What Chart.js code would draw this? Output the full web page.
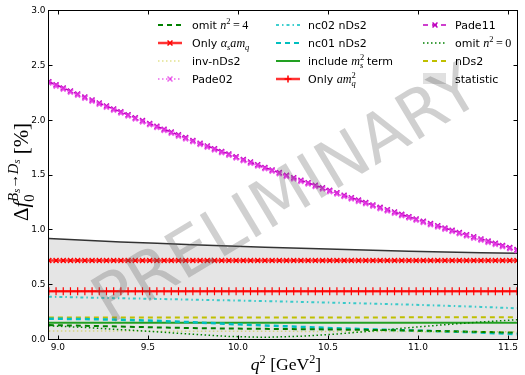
<!DOCTYPE html>
<html><head><meta charset="utf-8">
<script src="https://cdn.jsdelivr.net/npm/chart.js@4/dist/chart.umd.min.js"></script>
<style>html,body{margin:0;padding:0;background:#fff;}canvas{display:block;}</style>
</head><body>
<canvas id="c" width="525" height="375"></canvas>
<script>
// ---------- data ----------
const q2 = [8.95, 8.99, 9.03, 9.07, 9.11, 9.15, 9.19, 9.23, 9.27, 9.31, 9.35, 9.39, 9.43, 9.47, 9.51, 9.55, 9.59, 9.63, 9.67, 9.71, 9.75, 9.79, 9.83, 9.87, 9.91, 9.95, 9.99, 10.03, 10.07, 10.11, 10.15, 10.19, 10.23, 10.27, 10.31, 10.35, 10.39, 10.43, 10.47, 10.51, 10.55, 10.59, 10.63, 10.67, 10.71, 10.75, 10.79, 10.83, 10.87, 10.91, 10.95, 10.99, 11.03, 11.07, 11.11, 11.15, 11.19, 11.23, 11.27, 11.31, 11.35, 11.39, 11.43, 11.47, 11.51, 11.55];
const q2Coarse = [8.95, 9.15, 9.35, 9.55, 9.75, 9.95, 10.15, 10.35, 10.55, 10.75, 10.95, 11.15, 11.35, 11.55];
const xTicks = [9.0, 9.5, 10.0, 10.5, 11.0, 11.5];
const yTicks = [0.0, 0.5, 1.0, 1.5, 2.0, 2.5, 3.0];

const pade02 = [2.340, 2.312, 2.284, 2.256, 2.229, 2.201, 2.174, 2.146, 2.119, 2.092,
  2.066, 2.039, 2.012, 1.986, 1.960, 1.934, 1.908, 1.882, 1.856, 1.831,
  1.805, 1.780, 1.755, 1.730, 1.705, 1.681, 1.656, 1.632, 1.608, 1.583,
  1.559, 1.536, 1.512, 1.488, 1.465, 1.442, 1.419, 1.396, 1.373, 1.350,
  1.328, 1.305, 1.283, 1.261, 1.239, 1.217, 1.195, 1.174, 1.152, 1.131,
  1.110, 1.089, 1.068, 1.047, 1.027, 1.006, 0.986, 0.966, 0.946, 0.926,
  0.907, 0.887, 0.868, 0.848, 0.829, 0.810];
const pade11 = [2.350, 2.322, 2.294, 2.266, 2.239, 2.211, 2.184, 2.156, 2.129, 2.102,
  2.076, 2.049, 2.022, 1.996, 1.970, 1.944, 1.918, 1.892, 1.866, 1.841,
  1.815, 1.790, 1.765, 1.740, 1.715, 1.691, 1.666, 1.642, 1.618, 1.593,
  1.569, 1.546, 1.522, 1.498, 1.475, 1.452, 1.429, 1.406, 1.383, 1.360,
  1.338, 1.315, 1.293, 1.271, 1.249, 1.227, 1.205, 1.184, 1.162, 1.141,
  1.120, 1.099, 1.078, 1.057, 1.037, 1.016, 0.996, 0.976, 0.956, 0.936,
  0.917, 0.897, 0.878, 0.858, 0.839, 0.820];
const onlyAsAmq = [0.72, 0.72, 0.72, 0.72, 0.72, 0.72, 0.72, 0.72, 0.72, 0.72,
  0.72, 0.72, 0.72, 0.72, 0.72, 0.72, 0.72, 0.72, 0.72, 0.72,
  0.72, 0.72, 0.72, 0.72, 0.72, 0.72, 0.72, 0.72, 0.72, 0.72,
  0.72, 0.72, 0.72, 0.72, 0.72, 0.72, 0.72, 0.72, 0.72, 0.72,
  0.72, 0.72, 0.72, 0.72, 0.72, 0.72, 0.72, 0.72, 0.72, 0.72,
  0.72, 0.72, 0.72, 0.72, 0.72, 0.72, 0.72, 0.72, 0.72, 0.72,
  0.72, 0.72, 0.72, 0.72, 0.72, 0.72];
const onlyAmq2 = [0.44, 0.44, 0.44, 0.44, 0.44, 0.44, 0.44, 0.44, 0.44, 0.44,
  0.44, 0.44, 0.44, 0.44, 0.44, 0.44, 0.44, 0.44, 0.44, 0.44,
  0.44, 0.44, 0.44, 0.44, 0.44, 0.44, 0.44, 0.44, 0.44, 0.44,
  0.44, 0.44, 0.44, 0.44, 0.44, 0.44, 0.44, 0.44, 0.44, 0.44,
  0.44, 0.44, 0.44, 0.44, 0.44, 0.44, 0.44, 0.44, 0.44, 0.44,
  0.44, 0.44, 0.44, 0.44, 0.44, 0.44, 0.44, 0.44, 0.44, 0.44,
  0.44, 0.44, 0.44, 0.44, 0.44, 0.44];

const statistic  = [0.920, 0.905, 0.890, 0.877, 0.864, 0.852, 0.841, 0.831, 0.822, 0.813, 0.805, 0.798, 0.792, 0.787];
const nc02nDs2   = [0.390, 0.383, 0.376, 0.370, 0.363, 0.357, 0.350, 0.343, 0.335, 0.327, 0.318, 0.308, 0.297, 0.285];
const nc01nDs2   = [0.190, 0.186, 0.180, 0.170, 0.157, 0.142, 0.128, 0.115, 0.102, 0.092, 0.083, 0.074, 0.064, 0.048];
const omitN4     = [0.132, 0.125, 0.118, 0.110, 0.104, 0.100, 0.097, 0.094, 0.091, 0.087, 0.082, 0.076, 0.069, 0.062];
const omitN0     = [0.125, 0.110, 0.090, 0.070, 0.048, 0.028, 0.020, 0.030, 0.050, 0.078, 0.108, 0.135, 0.160, 0.180];
const invNDs2    = [0.078, 0.077, 0.077, 0.076, 0.076, 0.075, 0.075, 0.074, 0.073, 0.073, 0.072, 0.071, 0.071, 0.070];
const nDs2       = [0.200, 0.200, 0.200, 0.200, 0.200, 0.200, 0.200, 0.201, 0.201, 0.201, 0.202, 0.202, 0.203, 0.204];
const includeMs2 = [0.152, 0.152, 0.152, 0.152, 0.152, 0.152, 0.152, 0.152, 0.152, 0.152, 0.152, 0.152, 0.152, 0.152];

// ---------- helpers ----------
const pts = (xs, ys) => xs.map((x, i) => ({x: x, y: ys[i]}));
const SF = '"DejaVu Sans"', RM = '"Liberation Serif"';
function fontFor(f, size) {
  if (f === 'it') return 'italic ' + size + 'px ' + RM;
  if (f === 'rm') return size + 'px ' + RM;
  return size + 'px ' + SF;
}
// seg: [text, font, scale, dyEm, flag]  flag 's' save x, 'r' restore x
function richLayout(ctx, segs, base, draw, x0, y0) {
  let x = x0 || 0, saved = 0, maxX = x;
  for (const s of segs) {
    const [t, f, sc = 1, dy = 0, fl = ''] = s;
    const size = base * (f === 'sf' ? 1 : 1.1) * sc;
    if (fl === 's') saved = x;
    if (fl === 'r') x = saved;
    ctx.font = fontFor(f, size);
    if (draw) ctx.fillText(t, x, y0 + dy * base);
    x += ctx.measureText(t).width;
    maxX = Math.max(maxX, x);
  }
  return maxX - (x0 || 0);
}
function drawRich(ctx, segs, base, x, y, align) {
  ctx.textAlign = 'left'; ctx.textBaseline = 'alphabetic';
  let w = richLayout(ctx, segs, base, false, 0, 0);
  let sx = align === 'center' ? x - w / 2 : x;
  richLayout(ctx, segs, base, true, sx, y);
}

const C = {
  green: '#008000', greenLight: '#22a022', red: 'rgba(255,0,0,0.8)', redM: '#ff0000',
  yellow: '#bfbf00', yellowPale: 'rgba(191,191,0,0.45)', cyan: '#00bfbf', cyanLight: 'rgba(0,191,191,0.75)',
  mag: '#bf00bf', magLight: 'rgba(221,0,221,0.6)'
};
const DASH = [5, 4], DOT = [1.5, 2.5], DASHDOT = [3, 3, 1.5, 3];

const legendItems = [
  {col: 0, row: 0, color: C.green, dash: DASH, lw: 2, segs: [['omit ', 'sf'], ['n', 'it'], ['2', 'rm', 0.7, -0.42], ['\u2009=\u20094', 'rm']]},
  {col: 0, row: 1, color: C.red, dash: [], lw: 2.5, marker: 'x', mcolor: C.redM, segs: [['Only ', 'sf'], ['\u03b1', 'it'], ['s', 'it', 0.7, 0.25], ['am', 'it'], ['q', 'it', 0.7, 0.25]]},
  {col: 0, row: 2, color: C.yellowPale, dash: DOT, lw: 1.5, segs: [['inv-nDs2', 'sf']]},
  {col: 0, row: 3, color: C.magLight, dash: DOT, lw: 1.5, marker: 'x', mcolor: C.magLight, segs: [['Pade02', 'sf']]},
  {col: 1, row: 0, color: C.cyanLight, dash: DASHDOT, lw: 2, segs: [['nc02 nDs2', 'sf']]},
  {col: 1, row: 1, color: C.cyan, dash: DASH, lw: 2, segs: [['nc01 nDs2', 'sf']]},
  {col: 1, row: 2, color: C.greenLight, dash: [], lw: 2, segs: [['include ', 'sf'], ['m', 'it'], ['2', 'rm', 0.7, -0.42, 's'], ['s', 'it', 0.7, 0.25, 'r'], [' term', 'sf']]},
  {col: 1, row: 3, color: C.red, dash: [], lw: 2.5, marker: '+', mcolor: C.redM, segs: [['Only ', 'sf'], ['am', 'it'], ['2', 'rm', 0.7, -0.42, 's'], ['q', 'it', 0.7, 0.25, 'r']]},
  {col: 2, row: 0, color: C.mag, dash: DASH, lw: 1.5, marker: 'x', mcolor: C.mag, segs: [['Pade11', 'sf']]},
  {col: 2, row: 1, color: C.green, dash: DOT, lw: 1.5, segs: [['omit ', 'sf'], ['n', 'it'], ['2', 'rm', 0.7, -0.42], ['\u2009=\u20090', 'rm']]},
  {col: 2, row: 2, color: C.yellow, dash: DASH, lw: 2, segs: [['nDs2', 'sf']]},
  {col: 2, row: 3, patch: 'rgba(0,0,0,0.12)', segs: [['statistic', 'sf']]}
];
const legendCols = [158, 276, 423];
const legendTextX = [192, 308, 455];
const legendRows = [25, 43, 61, 79];

function drawMarker(ctx, type, cx, cy, r, color, lw) {
  ctx.save(); ctx.strokeStyle = color; ctx.lineWidth = lw; ctx.setLineDash([]);
  ctx.beginPath();
  if (type === 'x') {
    const d = r * Math.SQRT1_2;
    ctx.moveTo(cx - d, cy - d); ctx.lineTo(cx + d, cy + d);
    ctx.moveTo(cx - d, cy + d); ctx.lineTo(cx + d, cy - d);
  } else {
    ctx.moveTo(cx - r, cy); ctx.lineTo(cx + r, cy);
    ctx.moveTo(cx, cy - r); ctx.lineTo(cx, cy + r);
  }
  ctx.stroke(); ctx.restore();
}

const framePlugin = {
  id: 'frame',
  afterDatasetsDraw(chart) {
    const {ctx, chartArea: a, scales} = chart;
    ctx.save();
    // watermark (drawn over data, under legend)
    ctx.save();
    ctx.translate(288, 198); ctx.rotate(-31 * Math.PI / 180);
    ctx.font = '66px ' + SF; ctx.textAlign = 'center'; ctx.textBaseline = 'middle';
    ctx.fillStyle = 'rgba(100,100,100,0.3)';
    ctx.fillText('PRELIMINARY', 0, 0);
    ctx.restore();

    ctx.strokeStyle = '#000'; ctx.lineWidth = 1; ctx.setLineDash([]);
    ctx.strokeRect(a.left, a.top, a.right - a.left, a.bottom - a.top);
    ctx.beginPath();
    xTicks.forEach(v => {
      const p = Math.round(scales.x.getPixelForValue(v)) + 0.5;
      ctx.moveTo(p, a.bottom); ctx.lineTo(p, a.bottom - 4);
      ctx.moveTo(p, a.top); ctx.lineTo(p, a.top + 4);
    });
    yTicks.forEach(v => {
      const p = Math.round(scales.y.getPixelForValue(v) - 0.5) + 0.5;
      ctx.moveTo(a.left, p); ctx.lineTo(a.left + 4, p);
      ctx.moveTo(a.right, p); ctx.lineTo(a.right - 4, p);
    });
    ctx.stroke();
    ctx.restore();
  },
  afterDraw(chart) {
    const {ctx, chartArea: a} = chart;
    ctx.save();
    ctx.fillStyle = '#000';
    // legend
    legendItems.forEach(it => {
      const x0 = legendCols[it.col], y = legendRows[it.row];
      if (it.patch) {
        ctx.fillStyle = it.patch; ctx.fillRect(x0, y - 6, 23, 11);
      } else {
        ctx.strokeStyle = it.color; ctx.lineWidth = it.lw; ctx.setLineDash(it.dash);
        ctx.beginPath(); ctx.moveTo(x0, y); ctx.lineTo(x0 + 24, y); ctx.stroke();
        ctx.setLineDash([]);
        if (it.marker) drawMarker(ctx, it.marker, x0 + 12, y, 3.5, it.mcolor, 1.5);
      }
      ctx.fillStyle = '#000';
      drawRich(ctx, it.segs, 11, legendTextX[it.col], y + 4, 'left');
    });
    // x title
    drawRich(ctx, [['q', 'it'], ['2', 'rm', 0.7, -0.45], [' [GeV', 'rm'], ['2', 'rm', 0.7, -0.45], [']', 'rm']], 16, (a.left + a.right) / 2 + 3, 370, 'center');
    // y title
    ctx.save();
    ctx.translate(28, 172); ctx.rotate(-Math.PI / 2);
    drawRich(ctx, [['\u0394', 'rm'], ['f', 'it'], ['0', 'rm', 0.7, 0.3, 's'], ['B', 'it', 0.7, -0.55, 'r'], ['s', 'it', 0.5, -0.4], ['\u2192', 'rm', 0.7, -0.55], ['D', 'it', 0.7, -0.55], ['s', 'it', 0.5, -0.4], [' [%]', 'rm']], 19, 0, 0, 'center');
    ctx.restore();
    ctx.restore();
  }
};

const line = (label, xs, ys, o) => Object.assign({
  label: label, data: pts(xs, ys), borderWidth: 2, pointRadius: 0, fill: false, tension: 0
}, o);

const datasets = [
  line('statistic', q2Coarse, statistic, {borderColor: '#333', borderWidth: 1.5, fill: 'origin', backgroundColor: 'rgba(0,0,0,0.1)', order: 10}),
  line('omit n2=0', q2Coarse, omitN0, {borderColor: C.green, borderWidth: 1.5, borderDash: DOT}),
  line('inv-nDs2', q2Coarse, invNDs2, {borderColor: C.yellowPale, borderWidth: 1.5, borderDash: DOT}),
  line('omit n2=4', q2Coarse, omitN4, {borderColor: C.green, borderDash: DASH}),
  line('nc01 nDs2', q2Coarse, nc01nDs2, {borderColor: C.cyan, borderWidth: 2.5, borderDash: DASH}),
  line('include ms2 term', q2Coarse, includeMs2, {borderColor: C.greenLight, borderWidth: 2}),
  line('nDs2', q2Coarse, nDs2, {borderColor: C.yellow, borderWidth: 2, borderDash: DASH}),
  line('nc02 nDs2', q2Coarse, nc02nDs2, {borderColor: C.cyanLight, borderWidth: 2, borderDash: DASHDOT}),
  line('Only amq2', q2, onlyAmq2, {borderColor: C.red, borderWidth: 2.5, pointRadius: 4, pointStyle: 'cross', pointBorderColor: C.redM, pointBorderWidth: 1.2}),
  line('Only as amq', q2, onlyAsAmq, {borderColor: C.red, borderWidth: 2.5, pointRadius: 3.5, pointStyle: 'crossRot', pointBorderColor: C.redM, pointBorderWidth: 1.5}),
  line('Pade02', q2, pade02, {borderColor: C.magLight, borderWidth: 1.5, borderDash: DOT, pointRadius: 3.5, pointStyle: 'crossRot', pointBorderColor: 'rgba(230,60,230,0.8)', pointBorderWidth: 2}),
  line('Pade11', q2, pade11, {borderColor: C.mag, borderWidth: 1.5, borderDash: DASH, pointRadius: 3.5, pointStyle: 'crossRot', pointBorderColor: C.mag, pointBorderWidth: 1.5})
];

new Chart(document.getElementById('c'), {
  type: 'line',
  data: {datasets: datasets},
  options: {
    responsive: false, animation: false, events: [],
    layout: {padding: {left: 0, top: 10.5, right: 7.5, bottom: 0}},
    plugins: {legend: {display: false}, tooltip: {enabled: false}},
    scales: {
      x: {
        type: 'linear', min: 8.948, max: 11.553,
        afterBuildTicks: s => { s.ticks = xTicks.map(v => ({value: v})); },
        afterFit: s => { s.height = 35.5; },
        grid: {display: false, drawTicks: false}, border: {display: false},
        ticks: {callback: v => Number(v).toFixed(1), font: {family: 'DejaVu Sans', size: 9}, color: '#000', padding: 3, maxRotation: 0, autoSkip: false}
      },
      y: {
        type: 'linear', min: 0, max: 3,
        afterBuildTicks: s => { s.ticks = yTicks.map(v => ({value: v})); },
        afterFit: s => { s.width = 48.5; },
        grid: {display: false, drawTicks: false}, border: {display: false},
        ticks: {callback: v => Number(v).toFixed(1), font: {family: 'DejaVu Sans', size: 9}, color: '#000', padding: 3}
      }
    }
  },
  plugins: [framePlugin]
});
</script>
</body></html>
